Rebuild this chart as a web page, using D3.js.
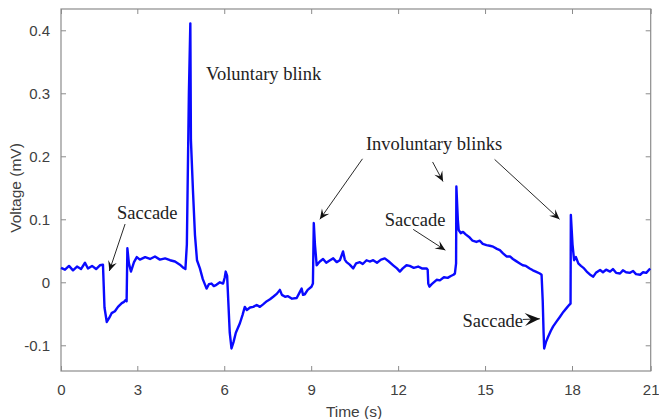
<!DOCTYPE html>
<html>
<head>
<meta charset="utf-8">
<script src="https://cdn.jsdelivr.net/npm/d3@7"></script>
<style>
    body { margin: 0; background: #fff; }
    svg { display: block; }
</style>
</head>
<body>
<svg id="chart" width="659" height="419"></svg>
<script>

// EOG trace (time in s, voltage in mV)
let times = [
    0, 0.157, 0.315, 0.472, 0.629, 0.786, 0.944, 1.06, 1.22, 1.38, 1.53, 1.65,
    1.71, 1.80, 1.89, 1.99, 2.12, 2.24, 2.39, 2.48, 2.54, 2.58,
    2.61, 2.67, 2.75, 2.87, 2.98,
    3.09, 3.27, 3.44, 3.61, 3.78, 3.96, 4.13, 4.30, 4.47, 4.59, 4.66,
    4.71, 4.78, 4.83, 4.85, 4.92, 4.99, 5.06, 5.16, 5.26, 5.39, 5.47, 5.56, 5.64, 5.73, 5.85, 5.96, 6.02, 6.05, 6.10,
    6.14, 6.19, 6.25, 6.32, 6.40, 6.54, 6.63, 6.71, 6.78, 6.89, 7.00, 7.12, 7.23, 7.34, 7.47, 7.58, 7.69, 7.82, 7.92, 7.99,
    8.10, 8.20, 8.34, 8.50, 8.58, 8.67, 8.72, 8.78, 8.88, 9.01, 9.06,
    9.09, 9.13, 9.19, 9.24, 9.30, 9.41, 9.52, 9.65, 9.76, 9.88, 9.99, 10.10, 10.16, 10.22, 10.33, 10.45, 10.55, 10.68,
    10.78, 10.91, 11.02, 11.14, 11.27, 11.41, 11.54, 11.68, 11.83, 11.96, 12.06, 12.16, 12.29, 12.40, 12.54, 12.69, 12.82, 12.98, 13.02,
    13.04, 13.08, 13.16, 13.33, 13.44, 13.58, 13.71, 13.82, 13.91, 13.96, 14.00,
    14.01, 14.06, 14.09, 14.16, 14.24, 14.33, 14.47, 14.57, 14.70, 14.82, 14.92, 15.05, 15.16, 15.28, 15.41, 15.51,
    15.62, 15.74, 15.86, 15.96, 16.06, 16.20, 16.30, 16.41, 16.54, 16.65, 16.75, 16.89, 16.95,
    16.99, 17.02, 17.04, 17.10, 17.18, 17.27, 17.35, 17.47, 17.58, 17.70, 17.81, 17.90, 17.95,
    17.96, 18.02, 18.08, 18.15, 18.24, 18.34, 18.46, 18.56, 18.69, 18.81, 18.91, 19.07, 19.18, 19.30, 19.45, 19.56,
    19.68, 19.83, 19.94, 20.06, 20.21, 20.33, 20.44, 20.60, 20.71, 20.83, 20.98
];
let volts = [
    0.023, 0.020, 0.026, 0.019, 0.025, 0.021, 0.031, 0.022, 0.026, 0.021, 0.027, 0.028,
    -0.040, -0.063, -0.057, -0.049, -0.046, -0.039, -0.033, -0.031, -0.028, -0.030,
    0.054, 0.030, 0.017, 0.032, 0.040,
    0.036, 0.040, 0.037, 0.041, 0.036, 0.038, 0.035, 0.033, 0.028, 0.023, 0.021,
    0.060, 0.300, 0.411, 0.226, 0.146, 0.075, 0.035, 0.022, 0.005, -0.010, -0.003, -0.002, -0.006, -0.004, 0.000, -0.002, 0.008, 0.017, 0.010,
    -0.030, -0.080, -0.105, -0.095, -0.080, -0.065, -0.052, -0.039, -0.044, -0.040, -0.039, -0.036, -0.039, -0.035, -0.030, -0.027, -0.023, -0.018, -0.012, -0.020,
    -0.023, -0.022, -0.026, -0.025, -0.018, -0.010, -0.020, -0.019, -0.012, -0.007, -0.002,
    0.094, 0.060, 0.027, 0.030, 0.033, 0.037, 0.031, 0.035, 0.038, 0.032, 0.035, 0.049, 0.036, 0.032, 0.028, 0.022, 0.030, 0.032,
    0.029, 0.035, 0.033, 0.035, 0.031, 0.036, 0.038, 0.033, 0.027, 0.022, 0.017, 0.022, 0.027, 0.026, 0.023, 0.025, 0.022, 0.022, 0.020,
    -0.002, -0.007, -0.003, 0.004, 0.003, 0.008, 0.007, 0.010, 0.012, 0.014, 0.030,
    0.152, 0.100, 0.083, 0.078, 0.080, 0.076, 0.071, 0.066, 0.064, 0.066, 0.061, 0.059, 0.058, 0.0565, 0.053, 0.051,
    0.046, 0.041, 0.041, 0.037, 0.034, 0.030, 0.027, 0.026, 0.022, 0.019, 0.017, 0.014, 0.012,
    -0.030, -0.080, -0.105, -0.095, -0.086, -0.077, -0.070, -0.062, -0.055, -0.047, -0.041, -0.036, -0.034,
    0.107, 0.060, 0.035, 0.040, 0.030, 0.026, 0.022, 0.017, 0.012, 0.009, 0.015, 0.0195, 0.016, 0.020, 0.017, 0.021,
    0.015, 0.014, 0.019, 0.016, 0.015, 0.018, 0.013, 0.012, 0.016, 0.015, 0.022
];

let xTicks = [0, 3, 6, 9, 12, 15, 18, 21];
let yTicks = [-0.1, 0, 0.1, 0.2, 0.3, 0.4];

// annotation text, anchored in data space
let notes = [
    {text: "Voluntary blink", t: 5.37, v: 0.332},
    {text: "Saccade", t: 2.20, v: 0.110},
    {text: "Involuntary blinks", t: 10.89, v: 0.2195},
    {text: "Saccade", t: 11.54, v: 0.100},
    {text: "Saccade", t: 14.22, v: -0.060}
];
let arrows = [
    {t0: 2.52, v0: 0.0925, t1: 1.90, v1: 0.018, big: false},
    {t0: 10.77, v0: 0.196, t1: 9.30, v1: 0.100, big: false},
    {t0: 13.19, v0: 0.191, t1: 13.55, v1: 0.160, big: false},
    {t0: 15.33, v0: 0.195, t1: 17.57, v1: 0.100, big: false},
    {t0: 12.52, v0: 0.084, t1: 13.63, v1: 0.051, big: false},
    {t0: 16.30, v0: -0.059, t1: 16.89, v1: -0.058, big: true}
];

let svg = d3.select("#chart");
let plotLeft = 61, plotRight = 650.7, plotTop = 9, plotBottom = 371;
let axisColor = "#8c8c8c";
let textColor = "#404040";

// the picture's x ticks are not evenly spaced at the ends
let xScale = d3.scaleLinear()
    .domain([0, 3, 18, 21])
    .range([plotLeft, 137.3, 572, plotRight]);

let yScale = d3.scaleLinear()
    .domain([-0.1408, 0.4338])
    .range([plotBottom, plotTop]);

let defs = svg.append("defs");
function addMarker(id, len, half) {
    defs.append("marker")
        .attr("id", id)
        .attr("markerUnits", "userSpaceOnUse")
        .attr("viewBox", (-len - 1) + " " + (-half - 1) + " " + (len + 2) + " " + (half * 2 + 2))
        .attr("markerWidth", len + 2)
        .attr("markerHeight", half * 2 + 2)
        .attr("refX", 0)
        .attr("refY", 0)
        .attr("orient", "auto")
        .append("path")
        .attr("d", "M0,0 L" + (-len) + "," + (-half) + " L" + (-len * 0.6) + ",0 L" + (-len) + "," + half + " Z")
        .attr("fill", "#111");
}
addMarker("head", 10, 4.5);
addMarker("headBig", 15, 6.5);

// axes, ticks pointing inward on all four sides
let xAxis = d3.axisBottom(xScale).tickValues(xTicks).tickSize(-5).tickPadding(13).tickFormat(d => String(d));
let xTop = d3.axisTop(xScale).tickValues(xTicks).tickSize(-5).tickFormat("");
let yAxis = d3.axisLeft(yScale).tickValues(yTicks).tickSize(-5).tickPadding(11).tickFormat(d => String(d));
let yRight = d3.axisRight(yScale).tickValues(yTicks).tickSize(-5).tickFormat("");

function styleAxis(g) {
    g.select(".domain").remove();
    g.selectAll(".tick line").attr("stroke", axisColor);
    g.selectAll(".tick text")
        .attr("fill", textColor)
        .style("font-family", "Arial, 'Liberation Sans', sans-serif")
        .style("font-size", "15px");
}

svg.append("g").attr("transform", "translate(0," + plotBottom + ")").call(xAxis).call(styleAxis);
svg.append("g").attr("transform", "translate(0," + plotTop + ")").call(xTop).call(styleAxis);
svg.append("g").attr("transform", "translate(" + plotLeft + ",0)").call(yAxis).call(styleAxis);
svg.append("g").attr("transform", "translate(" + plotRight + ",0)").call(yRight).call(styleAxis);

svg.append("rect")
    .attr("x", plotLeft)
    .attr("y", plotTop)
    .attr("width", plotRight - plotLeft)
    .attr("height", plotBottom - plotTop)
    .attr("fill", "none")
    .attr("stroke", axisColor)
    .attr("stroke-width", 1.2);

// signal
let points = times.map((t, i) => [t, volts[i]]);
let line = d3.line()
    .x(d => xScale(d[0]))
    .y(d => yScale(d[1]));

svg.append("path")
    .datum(points)
    .attr("d", line)
    .attr("fill", "none")
    .attr("stroke", "#0a0aff")
    .attr("stroke-width", 2.4)
    .attr("stroke-linejoin", "round");

// axis titles
svg.append("text")
    .attr("x", 354)
    .attr("y", 417)
    .attr("text-anchor", "middle")
    .attr("fill", textColor)
    .style("font-family", "Arial, 'Liberation Sans', sans-serif")
    .style("font-size", "15.5px")
    .text("Time (s)");

svg.append("text")
    .attr("transform", "translate(21,188) rotate(-90)")
    .attr("text-anchor", "middle")
    .attr("fill", textColor)
    .style("font-family", "Arial, 'Liberation Sans', sans-serif")
    .style("font-size", "15.5px")
    .text("Voltage (mV)");

// annotations
svg.selectAll(".note")
    .data(notes)
    .enter().append("text")
    .attr("class", "note")
    .attr("x", d => xScale(d.t))
    .attr("y", d => yScale(d.v))
    .attr("dy", "0.35em")
    .attr("fill", "#222")
    .style("font-family", "'Liberation Serif', 'Times New Roman', serif")
    .style("font-size", "18.5px")
    .text(d => d.text);

svg.selectAll(".arrow")
    .data(arrows)
    .enter().append("line")
    .attr("class", "arrow")
    .attr("x1", d => xScale(d.t0))
    .attr("y1", d => yScale(d.v0))
    .attr("x2", d => xScale(d.t1))
    .attr("y2", d => yScale(d.v1))
    .attr("stroke", "#111")
    .attr("stroke-width", 0.9)
    .attr("marker-end", d => d.big ? "url(#headBig)" : "url(#head)");

</script>
</body>
</html>
